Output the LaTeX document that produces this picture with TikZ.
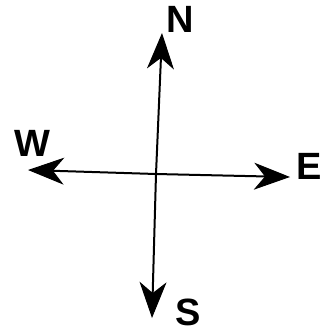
\documentclass[tikz,border=0pt]{standalone}
\usepackage{fontspec}
\setmainfont{Liberation Sans}
\usetikzlibrary{arrows.meta}
\begin{document}
\begin{tikzpicture}[x=1pt,y=-1pt,
  axis/.style={line width=2pt,-{Stealth[length=36pt,width=27pt,inset=11pt,line width=1pt]}},
  lbl/.style={font=\fontsize{38}{38}\selectfont\bfseries,inner sep=0pt}]
\useasboundingbox (0,0) rectangle (334,333);
\coordinate (s) at (152,318);
\coordinate (n) at (162,33);
\coordinate (w) at (28,170);
\coordinate (e) at (290,177);
\coordinate (c) at (156,174);
\draw[axis] (c) -- (n);
\draw[axis] (c) -- (s);
\draw[axis] (c) -- (w);
\draw[axis] (c) -- (e);
\node[lbl] (N) at (180,19) {N};
\node[lbl] (W) at (32,143) {W};
\node[lbl] (E) at (309,166) {E};
\node[lbl] (S) at (188,312) {S};
\end{tikzpicture}
\end{document}
